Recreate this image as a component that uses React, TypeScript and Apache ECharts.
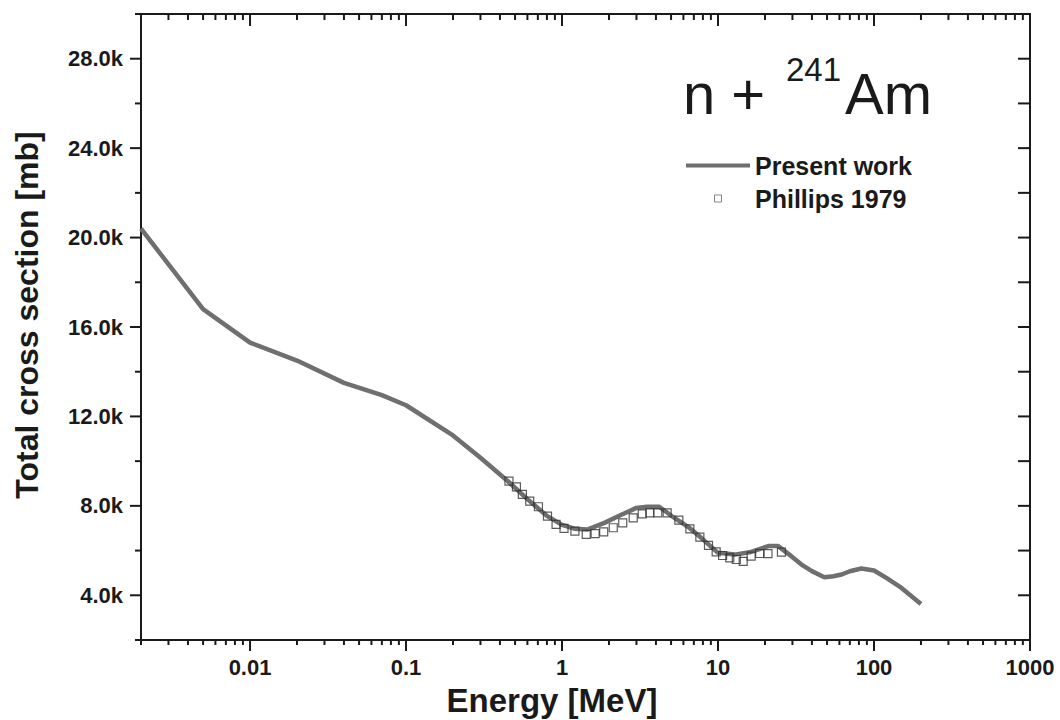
import React, { useEffect, useRef } from 'react';
import * as echarts from 'echarts';

// ---- axis ranges ----
const X_MIN = 0.002;
const X_MAX = 1000;
const Y_MIN = 2000;
const Y_MAX = 30000;

// ---- tick positions ----
const xMajorTicks = [0.01, 0.1, 1, 10, 100, 1000];
const xMinorTicks = [
  0.002, 0.003, 0.004, 0.005, 0.006, 0.007, 0.008, 0.009,
  0.02, 0.03, 0.04, 0.05, 0.06, 0.07, 0.08, 0.09,
  0.2, 0.3, 0.4, 0.5, 0.6, 0.7, 0.8, 0.9,
  2, 3, 4, 5, 6, 7, 8, 9,
  20, 30, 40, 50, 60, 70, 80, 90,
  200, 300, 400, 500, 600, 700, 800, 900,
];
const yMajorTicks = [4000, 8000, 12000, 16000, 20000, 24000, 28000];
const yMinorTicks = [2000, 6000, 10000, 14000, 18000, 22000, 26000, 30000];

// ---- Present work (calculation) ----
const workEnergy = [
  0.002, 0.005, 0.01, 0.02, 0.04, 0.07, 0.1, 0.2, 0.3, 0.45, 0.6, 0.8, 1.0, 1.2,
  1.45, 1.87, 2.4, 3.0, 3.5, 4.2, 5.2, 6.6, 7.8, 10, 12.8, 16.3, 21, 24.3, 29.5,
  34.3, 40, 48, 55, 62, 70, 83, 100, 120, 150, 200,
];
const workSigma = [
  20400, 16800, 15300, 14500, 13500, 12950, 12500, 11150, 10150, 9100, 8300, 7550,
  7150, 6980, 6940, 7240, 7600, 7910, 7960, 7960, 7480, 7000, 6570, 5900, 5820,
  5940, 6200, 6200, 5750, 5375, 5080, 4810, 4850, 4930, 5075, 5200, 5110, 4780,
  4330, 3610,
];

// ---- Phillips 1979 (experiment) ----
const phillipsEnergy = [
  0.457, 0.51, 0.557, 0.621, 0.706, 0.807, 0.916, 1.03, 1.21, 1.43, 1.63, 1.85,
  2.13, 2.45, 2.86, 3.27, 3.65, 4.11, 4.72, 5.61, 6.6, 7.65, 8.69, 9.73, 10.7,
  11.9, 13.1, 14.5, 16.3, 18.5, 20.9, 25.5,
];
const phillipsSigma = [
  9110, 8850, 8510, 8210, 7960, 7540, 7170, 6990, 6870, 6720, 6760, 6840, 7020,
  7240, 7460, 7640, 7690, 7690, 7690, 7360, 6970, 6600, 6230, 5940, 5780, 5670,
  5600, 5520, 5750, 5870, 5860, 5930,
];

const FONT = '"Liberation Sans", Arial, Helvetica, sans-serif';
const INK = '#1a1a1a';
const LINE_GRAY = '#6f6f6f';

function formatEnergy(v: number): string {
  const l = Math.log10(v);
  const r = Math.round(l);
  if (Math.abs(l - r) > 1e-6) return '';
  return r < 0 ? Math.pow(10, r).toFixed(-r) : String(Math.pow(10, r));
}

function renderXTick(params: any, api: any) {
  const cs = params.coordSys;
  const x = api.coord([api.value(0), Y_MIN])[0];
  const major = api.value(2) === 1;
  const bottom = cs.y + cs.height;
  const st = { stroke: INK, lineWidth: 2 };
  return {
    type: 'group',
    children: [
      { type: 'line', shape: { x1: x, y1: bottom, x2: x, y2: bottom + (major ? 11 : 5) }, style: st },
      { type: 'line', shape: { x1: x, y1: cs.y, x2: x, y2: cs.y + (major ? 12 : 6) }, style: st },
    ],
  };
}

function renderYTick(params: any, api: any) {
  const cs = params.coordSys;
  const y = api.coord([X_MIN, api.value(1)])[1];
  const major = api.value(2) === 1;
  const right = cs.x + cs.width;
  const st = { stroke: INK, lineWidth: 2 };
  return {
    type: 'group',
    children: [
      { type: 'line', shape: { x1: cs.x - (major ? 11 : 6), y1: y, x2: cs.x, y2: y }, style: st },
      { type: 'line', shape: { x1: right - 12, y1: y, x2: right, y2: y }, style: st },
    ],
  };
}

export default function App() {
  const ref = useRef<HTMLDivElement>(null);

  useEffect(() => {
    if (!ref.current) return;
    const chart = echarts.init(ref.current, undefined, { renderer: 'svg' });

    const workData = workEnergy.map((e, i) => [e, workSigma[i]]);
    const phillipsData = phillipsEnergy.map((e, i) => [e, phillipsSigma[i]]);
    const xTickData = [
      ...xMajorTicks.map((v) => [v, Y_MIN, 1]),
      ...xMinorTicks.map((v) => [v, Y_MIN, 0]),
    ];
    const yTickData = [
      ...yMajorTicks.map((v) => [X_MIN, v, 1]),
      ...yMinorTicks.map((v) => [X_MIN, v, 0]),
    ];

    chart.setOption({
      animation: false,
      backgroundColor: '#ffffff',
      grid: {
        left: 141,
        right: 30,
        top: 14,
        bottom: 80,
        show: true,
        borderColor: INK,
        borderWidth: 2,
      },
      xAxis: {
        type: 'log',
        logBase: 10,
        min: X_MIN,
        max: X_MAX,
        axisLine: { show: true, lineStyle: { color: INK, width: 2 } },
        axisTick: { show: false },
        splitLine: { show: false },
        minorTick: { show: false },
        axisLabel: {
          show: true,
          margin: 16,
          showMinLabel: false,
          color: INK,
          fontFamily: FONT,
          fontWeight: 'bold',
          fontSize: 22,
          formatter: (v: number) => formatEnergy(v),
        },
      },
      yAxis: {
        type: 'value',
        min: Y_MIN,
        max: Y_MAX,
        interval: 2000,
        axisLine: { show: true, lineStyle: { color: INK, width: 2 } },
        axisTick: { show: false },
        splitLine: { show: false },
        axisLabel: {
          margin: 18,
          color: INK,
          fontFamily: FONT,
          fontWeight: 'bold',
          fontSize: 22,
          formatter: (v: number) => (v % 4000 === 0 ? (v / 1000).toFixed(1) + 'k' : ''),
        },
      },
      legend: {
        orient: 'vertical',
        left: 686,
        top: 153,
        padding: 0,
        itemGap: 8,
        itemWidth: 64,
        itemHeight: 7,
        selectedMode: false,
        textStyle: { fontFamily: FONT, fontSize: 25, fontWeight: 'bold', color: INK },
        data: [
          {
            name: 'Present work',
            icon: 'path://M0,0L64,0L64,4L0,4Z',
            itemStyle: { color: LINE_GRAY, borderWidth: 0 },
          },
          {
            name: 'Phillips 1979',
            icon: 'path://M0,0L10,0L10,10L0,10Z',
            itemStyle: { color: 'rgba(255,255,255,0)', borderColor: '#6a6a6a', borderWidth: 1 },
          },
        ],
      },
      graphic: [
        {
          type: 'text',
          x: 683,
          y: 93,
          style: { text: 'n +', fontFamily: FONT, fontSize: 58, fill: INK, verticalAlign: 'middle', align: 'left' },
        },
        {
          type: 'text',
          x: 786,
          y: 69,
          style: { text: '241', fontFamily: FONT, fontSize: 33, fill: INK, verticalAlign: 'middle', align: 'left' },
        },
        {
          type: 'text',
          x: 845,
          y: 93,
          style: { text: 'Am', fontFamily: FONT, fontSize: 58, fill: INK, verticalAlign: 'middle', align: 'left' },
        },
        {
          type: 'text',
          x: 552,
          y: 700,
          style: { text: 'Energy [MeV]', fontFamily: FONT, fontSize: 33, fontWeight: 'bold', fill: INK, verticalAlign: 'middle', align: 'center' },
        },
        {
          type: 'text',
          x: 27,
          y: 315,
          rotation: Math.PI / 2,
          style: { text: 'Total cross section [mb]', fontFamily: FONT, fontSize: 32, fontWeight: 'bold', fill: INK, verticalAlign: 'middle', align: 'center' },
        },
      ],
      series: [
        {
          name: 'Present work',
          type: 'line',
          data: workData,
          symbol: 'none',
          smooth: false,
          lineStyle: { color: LINE_GRAY, width: 4.5 },
          itemStyle: { color: LINE_GRAY },
          z: 3,
        },
        {
          name: 'Phillips 1979',
          type: 'scatter',
          data: phillipsData,
          symbol: 'rect',
          symbolSize: 8,
          itemStyle: { color: 'rgba(255,255,255,0)', borderColor: '#333333', borderWidth: 1.2 },
          z: 4,
        },
        {
          name: 'xTicks',
          type: 'custom',
          data: xTickData,
          encode: { x: 0, y: 1 },
          renderItem: renderXTick,
          clip: false,
          silent: true,
          z: 5,
        },
        {
          name: 'yTicks',
          type: 'custom',
          data: yTickData,
          encode: { x: 0, y: 1 },
          renderItem: renderYTick,
          clip: false,
          silent: true,
          z: 5,
        },
      ],
    });

    return () => chart.dispose();
  }, []);

  return (
    <div
      ref={ref}
      style={{ position: 'fixed', left: 0, top: 0, width: 1060, height: 720, background: '#fff' }}
    />
  );
}
